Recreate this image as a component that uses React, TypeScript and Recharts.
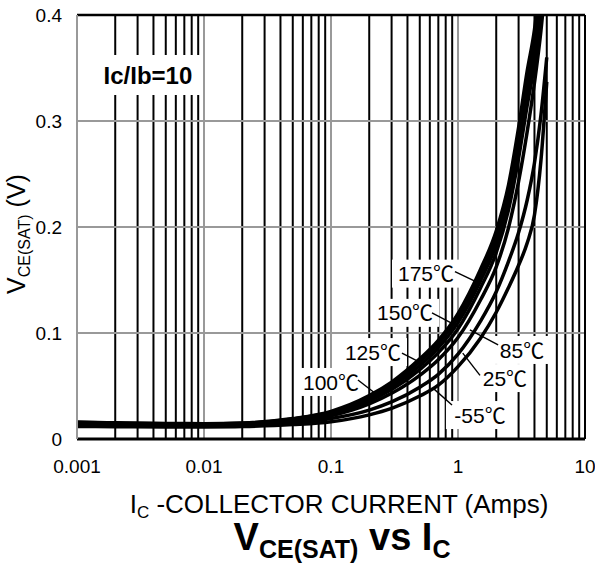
import React from 'react';
import { LineChart, Line, XAxis, YAxis, ReferenceLine, ReferenceDot } from 'recharts';

const FONT = "'Liberation Sans', Arial, 'Noto Sans CJK SC', sans-serif";

// Collector current (A)
const currents = [0.001, 0.002, 0.005, 0.01, 0.02, 0.05, 0.1, 0.2, 0.3, 0.5, 0.7, 1, 1.5, 2, 2.5, 3, 3.5, 4, 4.5, 5];

// VCE(sat) (V) per temperature
const v175 = [0.016, 0.0153, 0.0146, 0.0145, 0.0151, 0.0193, 0.0261, 0.0409, 0.0537, 0.0756, 0.0931, 0.1183, 0.1597, 0.1962, 0.2398, 0.2938, 0.3466, 0.386, 0.44, null];
const v150 = [0.0156, 0.015, 0.0143, 0.0142, 0.0148, 0.0189, 0.0253, 0.0392, 0.0517, 0.0729, 0.0901, 0.1146, 0.1549, 0.1904, 0.2331, 0.2852, 0.3368, 0.376, 0.43, null];
const v125 = [0.0152, 0.0146, 0.014, 0.0139, 0.0145, 0.0184, 0.0245, 0.0375, 0.0492, 0.0692, 0.0861, 0.1098, 0.1491, 0.1836, 0.2253, 0.2756, 0.3268, 0.367, 0.42, null];
const v100 = [0.0148, 0.0142, 0.0137, 0.0136, 0.0141, 0.0178, 0.0236, 0.0358, 0.0466, 0.0655, 0.0815, 0.1041, 0.1423, 0.1758, 0.2165, 0.265, 0.3141, 0.355, 0.41, 0.47];
const v85 = [0.0144, 0.0138, 0.0133, 0.0132, 0.0137, 0.0171, 0.022, 0.0331, 0.0431, 0.0601, 0.0748, 0.0957, 0.1309, 0.1623, 0.1994, 0.243, 0.2894, 0.336, 0.3854, 0.443];
const v25 = [0.0131, 0.0127, 0.0123, 0.0123, 0.0127, 0.0154, 0.0194, 0.0273, 0.035, 0.0489, 0.061, 0.08, 0.1109, 0.1389, 0.1676, 0.1947, 0.225, 0.2604, 0.3057, 0.36];
const vm55 = [0.0118, 0.0116, 0.0113, 0.0114, 0.0118, 0.0136, 0.0163, 0.0228, 0.0289, 0.0405, 0.0508, 0.0683, 0.0949, 0.1196, 0.1429, 0.1639, 0.1846, 0.2114, 0.263, 0.337];

const seriesKeys = ['t175', 't150', 't125', 't100', 't85', 't25', 'tm55'];
const seriesValues = [v175, v150, v125, v100, v85, v25, vm55];

const xTicks = [0.001, 0.01, 0.1, 1, 10];
const yTicks = [0, 0.1, 0.2, 0.3, 0.4];
const minorX = [
  0.002, 0.003, 0.004, 0.005, 0.006, 0.007, 0.008, 0.009,
  0.02, 0.03, 0.04, 0.05, 0.06, 0.07, 0.08, 0.09,
  0.2, 0.3, 0.4, 0.5, 0.6, 0.7, 0.8, 0.9,
  2, 3, 4, 5, 6, 7, 8, 9,
];
const decadeX = [0.01, 0.1, 1];
const gridY = [0.1, 0.2, 0.3];

// Temperature labels: text, label centre (data coords), leader line from -> to (data coords)
const tempLabels = [
  { text: '175℃', x: 0.56, y: 0.156, x1: 0.946, y1: 0.158, x2: 1.41, y2: 0.148 },
  { text: '150℃', x: 0.383, y: 0.119, x1: 0.624, y1: 0.119, x2: 1.04, y2: 0.105 },
  { text: '85℃', x: 3.19, y: 0.084, x1: 2.07, y1: 0.0887, x2: 1.24, y2: 0.103 },
  { text: '25℃', x: 2.34, y: 0.0575, x1: 1.49, y1: 0.06, x2: 1.09, y2: 0.081 },
  { text: '-55℃', x: 1.49, y: 0.0226, x1: 0.897, y1: 0.032, x2: 0.635, y2: 0.048 },
  { text: '125℃', x: 0.214, y: 0.082, x1: 0.362, y1: 0.081, x2: 0.55, y2: 0.07 },
  { text: '100℃', x: 0.1, y: 0.0538, x1: 0.163, y1: 0.0557, x2: 0.243, y2: 0.0396 },
];
const ratioLabel = { text: 'Ic/Ib=10', x: 0.00362, y: 0.3434 };

const rows = currents.map((c, i) => {
  const r: Record<string, number | null> = { i: c };
  seriesKeys.forEach((k, j) => {
    r[k] = seriesValues[j][i];
  });
  return r;
});

const boxLabel = (text: string, fontSize: number, bold: boolean, w: number, h: number) => (props: any) => {
  const { cx, cy } = props;
  return (
    <g>
      <rect x={cx - w / 2} y={cy - h / 2} width={w} height={h} fill="#fff" />
      <text
        x={cx}
        y={cy}
        dy="0.36em"
        textAnchor="middle"
        fontSize={fontSize}
        fontWeight={bold ? 'bold' : 'normal'}
        fontFamily={FONT}
        fill="#000"
      >
        {text}
      </text>
    </g>
  );
};

export default function App() {
  return (
    <div style={{ position: 'absolute', left: 0, top: 0, width: 595, height: 572, background: '#fff' }}>
      <LineChart width={595} height={572} data={rows} margin={{ top: 15, right: 10, bottom: 93, left: 0 }}>
        <XAxis
          dataKey="i"
          type="number"
          scale="log"
          domain={[0.001, 10]}
          ticks={xTicks}
          allowDataOverflow
          height={40}
          tickLine={false}
          tickSize={0}
          tickMargin={21}
          axisLine={{ stroke: '#000', strokeWidth: 3 }}
          tick={{ fontSize: 19, fill: '#000', fontFamily: FONT }}
          tickFormatter={(v: number) => String(v)}
          interval={0}
        />
        <YAxis
          type="number"
          domain={[0, 0.4]}
          ticks={yTicks}
          allowDataOverflow
          width={77}
          tickLine={false}
          tickSize={0}
          tickMargin={15}
          axisLine={{ stroke: '#999', strokeWidth: 2 }}
          tick={{ fontSize: 19, fill: '#000', fontFamily: FONT }}
          tickFormatter={(v: number) => String(v)}
          interval={0}
        />
        {minorX.map((v) => (
          <ReferenceLine key={'mx' + v} x={v} stroke="#000" strokeWidth={2} zIndex={-50} />
        ))}
        {decadeX.map((v) => (
          <ReferenceLine key={'dx' + v} x={v} stroke="#999" strokeWidth={2} zIndex={-50} />
        ))}
        {gridY.map((v) => (
          <ReferenceLine key={'gy' + v} y={v} stroke="#999" strokeWidth={2} zIndex={-50} />
        ))}
        <ReferenceLine y={0.4} stroke="#000" strokeWidth={2.5} zIndex={-40} />
        <ReferenceLine x={10} stroke="#000" strokeWidth={2} zIndex={-40} />
        <ReferenceDot
          x={ratioLabel.x}
          y={ratioLabel.y}
          zIndex={-30}
          shape={boxLabel(ratioLabel.text, 24, true, 108, 40)}
        />
        {tempLabels.map((a) => (
          <ReferenceDot
            key={'lb' + a.text}
            x={a.x}
            y={a.y}
            zIndex={-30}
            shape={boxLabel(a.text, 21, false, (a.text.length - 1) * 11.7 + 33, 28)}
          />
        ))}
        {tempLabels.map((a) => (
          <ReferenceLine
            key={'ld' + a.text}
            segment={[{ x: a.x1, y: a.y1 }, { x: a.x2, y: a.y2 }]}
            stroke="#000"
            strokeWidth={1.4}
            zIndex={-20}
          />
        ))}
        {seriesKeys.map((k) => (
          <Line
            key={k}
            dataKey={k}
            type="monotone"
            stroke="#000"
            strokeWidth={3.5}
            dot={false}
            activeDot={false}
            isAnimationActive={false}
            connectNulls={false}
          />
        ))}
      </LineChart>
      <svg
        width={595}
        height={572}
        style={{ position: 'absolute', left: 0, top: 0, pointerEvents: 'none' }}
        fontFamily={FONT}
      >
        <text transform="translate(25,234) rotate(-90)" textAnchor="middle" fontSize={25} fill="#000">
          V<tspan fontSize={16} dy={5}>CE(SAT)</tspan>
          <tspan dy={-5}> (V)</tspan>
        </text>
        <text x={339} y={513} textAnchor="middle" fontSize={26} fill="#000">
          I<tspan fontSize={17} dy={5}>C</tspan>
          <tspan dy={-5}> -COLLECTOR CURRENT (Amps)</tspan>
        </text>
        <text x={342} y={550} textAnchor="middle" fontSize={38} fontWeight="bold" fill="#000">
          V<tspan fontSize={25} dy={8}>CE(SAT)</tspan>
          <tspan dy={-8}> vs I</tspan>
          <tspan fontSize={25} dy={8}>C</tspan>
        </text>
      </svg>
    </div>
  );
}
